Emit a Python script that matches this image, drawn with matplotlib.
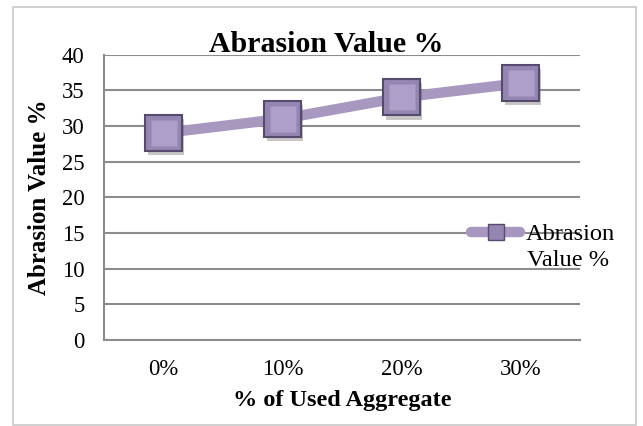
import matplotlib.pyplot as plt
import matplotlib.patheffects as pe
from matplotlib.patches import Rectangle

categories = ["0%", "10%", "20%", "30%"]
abrasion = [29, 31, 34, 36]
series_name = "Abrasion Value %"

plt.rcParams["font.family"] = ["Liberation Serif", "DejaVu Serif"]

fig = plt.figure(figsize=(6.43, 4.26), dpi=100)
ax = fig.add_axes([104 / 643, 0.2019, 476 / 643, 0.670])

# light frame round the whole chart
fig.patches.append(Rectangle((13 / 643, 1 / 426), 623 / 643, 418 / 426,
                             transform=fig.transFigure, fill=False,
                             edgecolor="#c8c8c8", linewidth=1.2))

x = list(range(len(categories)))
ax.plot(x, abrasion, color="#a898c0", linewidth=7.5, solid_capstyle="round", zorder=3)
# bevelled square markers: soft shadow, dark rim, lighter top face
shadow = [pe.SimplePatchShadow(offset=(1.5, -3), shadow_rgbFace="#444444", alpha=0.3), pe.Normal()]
ax.plot(x, abrasion, linestyle="none", marker="s", markersize=26,
        markerfacecolor="#9585b2", markeredgecolor="#564b6c", markeredgewidth=1.5,
        zorder=4, path_effects=shadow)
ax.plot(x, abrasion, linestyle="none", marker="s", markersize=19,
        markerfacecolor="#ad9fc9", markeredgecolor="none", zorder=5)

ax.set_xlim(-0.5, len(categories) - 0.5)
ax.set_ylim(0, 40)
ax.set_yticks(range(0, 41, 5))
ax.set_xticks(x)
ax.set_xticklabels(categories)
ax.tick_params(axis="both", length=0, labelsize=16.3)
ax.tick_params(axis="x", pad=14)
ax.tick_params(axis="y", pad=14)

ax.grid(axis="y", color="#8c8c8c", linewidth=1.5)
ax.set_axisbelow(True)
for side in ["top", "right"]:
    ax.spines[side].set_visible(False)
for side in ["left", "bottom"]:
    ax.spines[side].set_color("#8c8c8c")
    ax.spines[side].set_linewidth(1.5)

fig.text(0.507, 0.877, series_name, ha="center", va="baseline",
         fontsize=21.5, fontweight="bold")
fig.text(0.061, 0.537, series_name, ha="center", va="center",
         rotation=90, fontsize=18, fontweight="bold")
fig.text(0.532, 0.061, "% of Used Aggregate", ha="center", va="center",
         fontsize=17.5, fontweight="bold")

# legend entry, name wrapped onto two lines like the original
handle = plt.Line2D([], [], color="#a898c0", linewidth=7.5, solid_capstyle="round",
                    marker="s", markersize=12, markerfacecolor="#9585b2",
                    markeredgecolor="#564b6c", markeredgewidth=1)
words = series_name.split(" ", 1)
leg = ax.legend([handle], [words[0]], loc="center left", bbox_to_anchor=(0.751, 0.37),
                frameon=False, fontsize=17.6, handlelength=2.0,
                handletextpad=0.25, borderaxespad=0)
fig.text(527 / 643, 1 - 261 / 426, words[1], ha="left", va="center", fontsize=17.6)

fig.savefig("out.png", dpi=100)
